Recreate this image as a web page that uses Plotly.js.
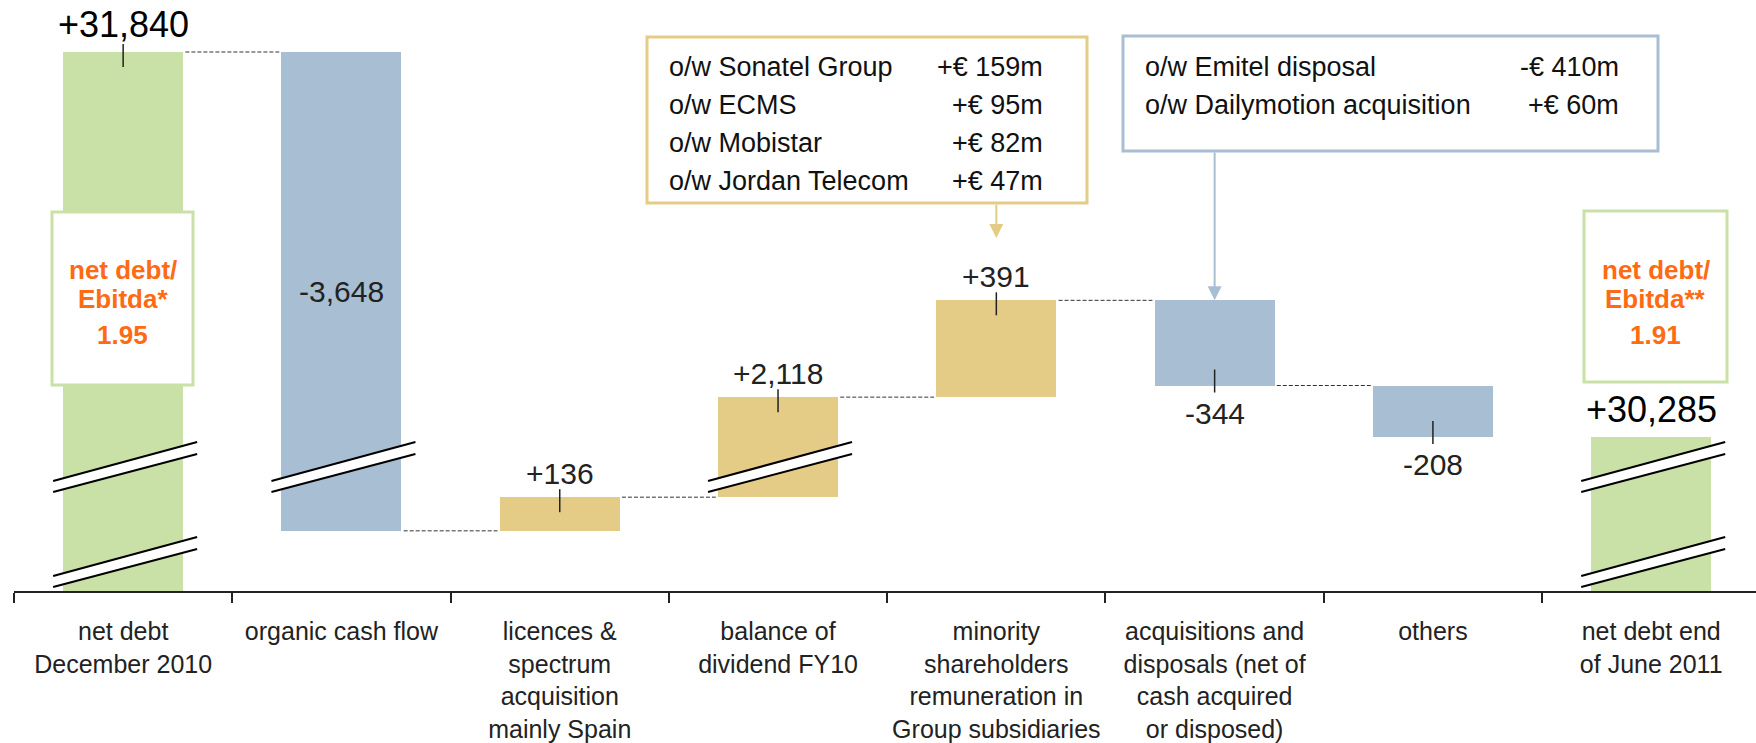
<!DOCTYPE html>
<html>
<head>
<meta charset="utf-8">
<script src="https://cdn.plot.ly/plotly-3.0.1.min.js"></script>
<style>
html, body { margin: 0; padding: 0; background: #ffffff; }
#chart { width: 1756px; height: 743px; }
</style>
</head>
<body>
<div id="chart"></div>
<script>
// ---------------- data ----------------
const categories = [
  'net debt<br>December 2010',
  'organic cash flow',
  'licences &<br>spectrum<br>acquisition<br>mainly Spain',
  'balance of<br>dividend FY10',
  'minority<br>shareholders<br>remuneration in<br>Group subsidiaries',
  'acquisitions and<br>disposals (net of<br>cash acquired<br>or disposed)',
  'others',
  'net debt end<br>of June 2011'
];
const measures = ['total', 'relative', 'relative', 'relative', 'relative', 'relative', 'relative', 'total'];
const values = [31840, -3648, 136, 2118, 391, -344, -208, 30285];

const ratioLabels = [['net debt/', 'Ebitda*'], ['net debt/', 'Ebitda**']];
const ratioValues = [1.95, 1.91];

const minorityItems = ['o/w Sonatel Group', 'o/w ECMS', 'o/w Mobistar', 'o/w Jordan Telecom'];
const minorityAmounts = [159, 95, 82, 47];

const acqItems = ['o/w Emitel disposal', 'o/w Dailymotion acquisition'];
const acqAmounts = [-410, 60];

// ---------------- style ----------------
const FONT = 'Liberation Sans, Arial, Helvetica, sans-serif';
const GREEN = '#C9E1A6', BLUE = '#A8BED3', GOLD = '#E4CC86', ORANGE = '#FF6A13';
const barColors = [GREEN, BLUE, GOLD, GOLD, GOLD, BLUE, BLUE, GREEN];
const labelPos = ['above', 'inside', 'above', 'above', 'above', 'below', 'below', 'above'];
const tickPos = ['top', null, 'top', 'top', 'top', 'bottom', 'bottom', null];
const BARW = 0.55;

// figure geometry (pixels)
const W = 1756, H = 743, ML = 14, MR = 0, MT = 0, MB = 152;
const PW = W - ML - MR, PH = H - MT - MB;
const px = x => (x - ML) / PW;          // pixel -> paper x
const py = y => (H - MB - y) / PH;       // pixel -> paper y

// broken value axis: three stacked segments with the same scale
const SEG = [
  { name: 'yaxis',  ref: 'y',  domain: [0, 0.04907],       range: [0, 117] },
  { name: 'yaxis2', ref: 'y2', domain: [0.04907, 0.20981], range: [28066, 28450] },
  { name: 'yaxis3', ref: 'y3', domain: [0.20981, 1],       range: [30163.8, 32050] }
];
function segOf(v) {
  for (const s of SEG) if (v >= s.range[0] && v <= s.range[1]) return s;
  return null;
}
function toPaper(v) {
  const s = segOf(v);
  return s.domain[0] + (v - s.range[0]) / (s.range[1] - s.range[0]) * (s.domain[1] - s.domain[0]);
}

// ---------------- waterfall geometry from data ----------------
const starts = [], ends = [], bases = [], heights = [];
let run = 0;
values.forEach((v, i) => {
  if (measures[i] === 'total') { starts.push(0); ends.push(v); run = v; }
  else { starts.push(run); run += v; ends.push(run); }
  bases.push(Math.min(starts[i], ends[i]));
  heights.push(Math.abs(ends[i] - starts[i]));
});

const fmtSigned = v => (v >= 0 ? '+' : '-') + Math.abs(v).toLocaleString('en-US');
const fmtEuro = v => (v >= 0 ? '+' : '-') + '€ ' + Math.abs(v) + 'm';

// ---------------- traces ----------------
const traces = SEG.map(s => ({
  type: 'bar',
  x: categories,
  y: heights,
  base: bases,
  width: BARW,
  yaxis: s.ref,
  xaxis: 'x',
  marker: { color: barColors, line: { width: 0 } },
  hoverinfo: 'skip',
  showlegend: false
}));

// ---------------- shapes ----------------
const shapes = [];
const annotations = [];

// dashed connectors
for (let i = 0; i < values.length - 1; i++) {
  if (measures[i + 1] === 'total') continue;
  const v = ends[i];
  const s = segOf(v);
  shapes.push({
    type: 'line', xref: 'x', yref: s.ref,
    x0: i + BARW / 2 + 0.01, x1: i + 1 - BARW / 2 - 0.01, y0: v, y1: v,
    line: { color: '#333333', width: 1, dash: '4px,2px' }
  });
}

// small tick marks on bar edges
tickPos.forEach((t, i) => {
  if (!t) return;
  const lo = bases[i], hi = bases[i] + heights[i];
  const v = t === 'top' ? hi : lo;
  const s = segOf(v);
  shapes.push({
    type: 'line', xref: 'x', yref: s.ref, ysizemode: 'pixel', yanchor: v,
    x0: i, x1: i,
    y0: t === 'top' ? 8 : 16, y1: t === 'top' ? -15 : -7,
    line: { color: '#222222', width: 1.5 }
  });
});

// break marks where bars cross a segment boundary
values.forEach((v, i) => {
  const lo = bases[i], hi = bases[i] + heights[i];
  for (let j = 0; j < SEG.length - 1; j++) {
    if (lo < SEG[j].range[1] && hi > SEG[j + 1].range[0]) {
      const common = { xref: 'x', yref: 'paper', xsizemode: 'pixel', ysizemode: 'pixel',
                       xanchor: i, yanchor: SEG[j].domain[1] };
      shapes.push(Object.assign({ type: 'path', path: 'M-70,-14 L74,25 L74,13 L-70,-25 Z',
        fillcolor: '#ffffff', line: { width: 0 } }, common));
      shapes.push(Object.assign({ type: 'path', path: 'M-70,-14 L74,25',
        line: { color: '#000000', width: 2 } }, common));
      shapes.push(Object.assign({ type: 'path', path: 'M-70,-25 L74,13',
        line: { color: '#000000', width: 2 } }, common));
    }
  }
});

// boxes
function box(x0, x1, y0, y1, color) {
  shapes.push({ type: 'rect', xref: 'paper', yref: 'paper',
    x0: px(x0), x1: px(x1), y0: py(y1), y1: py(y0),
    fillcolor: '#ffffff', line: { color: color, width: 3 } });
}
box(647, 1087, 37, 203, GOLD);
box(1123, 1658, 36, 151, BLUE);
box(52, 193, 212, 385, GREEN);
box(1584, 1727, 211, 382, GREEN);

// ---------------- annotations ----------------
// value labels
values.forEach((v, i) => {
  const lo = bases[i], hi = bases[i] + heights[i];
  const isTotal = measures[i] === 'total';
  const font = { family: FONT, size: isTotal ? 36 : 30, color: isTotal ? '#000000' : '#222222' };
  const a = { x: i, xref: 'x', text: fmtSigned(v), showarrow: false, font: font, xanchor: 'center' };
  if (labelPos[i] === 'above') {
    Object.assign(a, { y: hi, yref: segOf(hi).ref, yanchor: 'bottom', yshift: 5 });
  } else if (labelPos[i] === 'below') {
    Object.assign(a, { y: lo, yref: segOf(lo).ref, yanchor: 'top', yshift: -9 });
  } else {
    Object.assign(a, { y: (toPaper(lo) + toPaper(hi)) / 2, yref: 'paper', yanchor: 'middle' });
  }
  annotations.push(a);
});

// detail boxes text
const boxFont = { family: FONT, size: 27, color: '#111111' };
minorityItems.forEach((t, k) => {
  const yc = py(67 + 38 * k);
  annotations.push({ xref: 'paper', yref: 'paper', x: px(667), y: yc, xanchor: 'left', yanchor: 'middle',
    text: t, showarrow: false, font: boxFont });
  annotations.push({ xref: 'paper', yref: 'paper', x: px(1045), y: yc, xanchor: 'right', yanchor: 'middle',
    text: fmtEuro(minorityAmounts[k]), showarrow: false, font: boxFont });
});
acqItems.forEach((t, k) => {
  const yc = py(67 + 38 * k);
  annotations.push({ xref: 'paper', yref: 'paper', x: px(1143), y: yc, xanchor: 'left', yanchor: 'middle',
    text: t, showarrow: false, font: boxFont });
  annotations.push({ xref: 'paper', yref: 'paper', x: px(1621), y: yc, xanchor: 'right', yanchor: 'middle',
    text: fmtEuro(acqAmounts[k]), showarrow: false, font: boxFont });
});

// arrows from boxes to bars
const goldIdx = 4, blueIdx = 5;
annotations.push({ x: goldIdx, xref: 'x', y: py(238), yref: 'paper', ax: 0, ay: -(238 - 203),
  text: '', showarrow: true, arrowhead: 2, arrowsize: 1.4, arrowwidth: 2, arrowcolor: GOLD });
{
  const top = bases[blueIdx] + heights[blueIdx];
  const tipPx = H - MB - toPaper(top) * PH;
  annotations.push({ x: blueIdx, xref: 'x', y: top, yref: segOf(top).ref, ax: 0, ay: -(tipPx - 151),
    text: '', showarrow: true, arrowhead: 2, arrowsize: 1.4, arrowwidth: 2, arrowcolor: BLUE });
}

// ratio boxes text
const ratioBoxCenters = [122.5, 1655.5];
ratioLabels.forEach((lines, k) => {
  const f = { family: FONT, size: 26, color: ORANGE, weight: 'bold' };
  const yLines = [270, 299];
  lines.forEach((t, m) => {
    annotations.push({ xref: 'paper', yref: 'paper', x: px(ratioBoxCenters[k]), y: py(yLines[m]),
      xanchor: 'center', yanchor: 'middle', text: t, showarrow: false, font: f });
  });
  annotations.push({ xref: 'paper', yref: 'paper', x: px(ratioBoxCenters[k]), y: py(335),
    xanchor: 'center', yanchor: 'middle', text: ratioValues[k].toFixed(2), showarrow: false, font: f });
});

// ---------------- layout ----------------
const layout = {
  width: W, height: H,
  margin: { l: ML, r: MR, t: MT, b: MB, pad: 0 },
  paper_bgcolor: '#ffffff', plot_bgcolor: '#ffffff',
  showlegend: false,
  bargap: 0,
  font: { family: FONT, color: '#222222' },
  xaxis: {
    type: 'category', categoryorder: 'array', categoryarray: categories,
    range: [-0.5, 7.48], anchor: 'y', automargin: false,
    tickson: 'boundaries', ticks: 'outside', ticklen: 10, tickwidth: 2, tickcolor: '#222222',
    showline: true, linecolor: '#222222', linewidth: 2,
    showgrid: false, zeroline: false, fixedrange: true,
    tickangle: 0,
    tickfont: { family: FONT, size: 25, color: '#222222' },
    ticklabelstandoff: 17
  },
  shapes: shapes,
  annotations: annotations
};
SEG.forEach(s => {
  layout[s.name] = { domain: s.domain, range: s.range, anchor: 'x', visible: false,
    showgrid: false, zeroline: false, fixedrange: true };
});

Plotly.newPlot('chart', traces, layout, { staticPlot: true, displayModeBar: false });
</script>
</body>
</html>
